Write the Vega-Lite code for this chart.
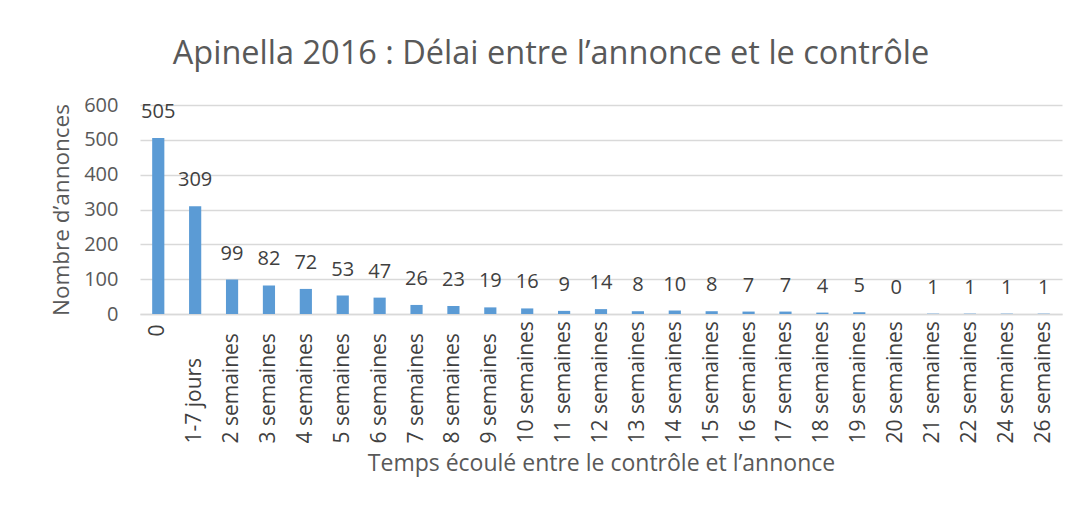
{
  "$schema": "https://vega.github.io/schema/vega-lite/v6.json",
  "autosize": {"type": "none"},
  "padding": {"left": 140, "top": 105, "right": 21, "bottom": 194},
  "width": 922,
  "height": 209,
  "background": "white",
  "config": {
    "font": "Open Sans",
    "view": {"stroke": null}
  },
  "title": {
    "text": "Apinella 2016 : Délai entre l’annonce et le contrôle",
    "fontSize": 32.5,
    "fontWeight": "normal",
    "color": "#595959",
    "anchor": "middle",
    "dx": -50,
    "offset": 25
  },
  "data": {
    "values": [
      {"cat": "0", "n": 505},
      {"cat": "1-7 jours", "n": 309},
      {"cat": "2 semaines", "n": 99},
      {"cat": "3 semaines", "n": 82},
      {"cat": "4 semaines", "n": 72},
      {"cat": "5 semaines", "n": 53},
      {"cat": "6 semaines", "n": 47},
      {"cat": "7 semaines", "n": 26},
      {"cat": "8 semaines", "n": 23},
      {"cat": "9 semaines", "n": 19},
      {"cat": "10 semaines", "n": 16},
      {"cat": "11 semaines", "n": 9},
      {"cat": "12 semaines", "n": 14},
      {"cat": "13 semaines", "n": 8},
      {"cat": "14 semaines", "n": 10},
      {"cat": "15 semaines", "n": 8},
      {"cat": "16 semaines", "n": 7},
      {"cat": "17 semaines", "n": 7},
      {"cat": "18 semaines", "n": 4},
      {"cat": "19 semaines", "n": 5},
      {"cat": "20 semaines", "n": 0},
      {"cat": "21 semaines", "n": 1},
      {"cat": "22 semaines", "n": 1},
      {"cat": "24 semaines", "n": 1},
      {"cat": "26 semaines", "n": 1}
    ]
  },
  "encoding": {
    "x": {
      "field": "cat",
      "type": "nominal",
      "sort": null,
      "scale": {"paddingInner": 0.67, "paddingOuter": 0.33},
      "axis": {
        "title": "Temps écoulé entre le contrôle et l’annonce",
        "titleFontSize": 23,
        "titleFontWeight": "normal",
        "titleColor": "#595959",
        "titlePadding": 9,
        "labelAngle": -90,
        "labelFontSize": 21,
        "labelColor": "#404040",
        "labelAlign": {"condition": {"test": "datum.value == '0'", "value": "right"}, "value": "left"},
        "labelPadding": {"condition": {"test": "datum.value == '0'", "value": 10}, "value": 129},
        "labelOverlap": false,
        "labelBound": false,
        "labelFlush": false,
        "ticks": false,
        "domainColor": "#D9D9D9",
        "domainWidth": 1.5
      }
    },
    "y": {
      "field": "n",
      "type": "quantitative",
      "scale": {"domain": [0, 600]},
      "axis": {
        "title": "Nombre d’annonces",
        "titleFontSize": 22.5,
        "titleFontWeight": "normal",
        "titleColor": "#595959",
        "titlePadding": 10,
        "values": [0, 100, 200, 300, 400, 500, 600],
        "labelFontSize": 20,
        "labelColor": "#595959",
        "labelPadding": 22,
        "ticks": false,
        "domain": false,
        "gridColor": "#D9D9D9",
        "gridWidth": 1.5
      }
    }
  },
  "layer": [
    {"mark": {"type": "bar", "color": "#5B9BD5"}},
    {
      "mark": {"type": "text", "baseline": "middle", "dy": -26, "fontSize": 20, "color": "#404040"},
      "encoding": {"text": {"field": "n", "type": "quantitative"}}
    }
  ]
}
